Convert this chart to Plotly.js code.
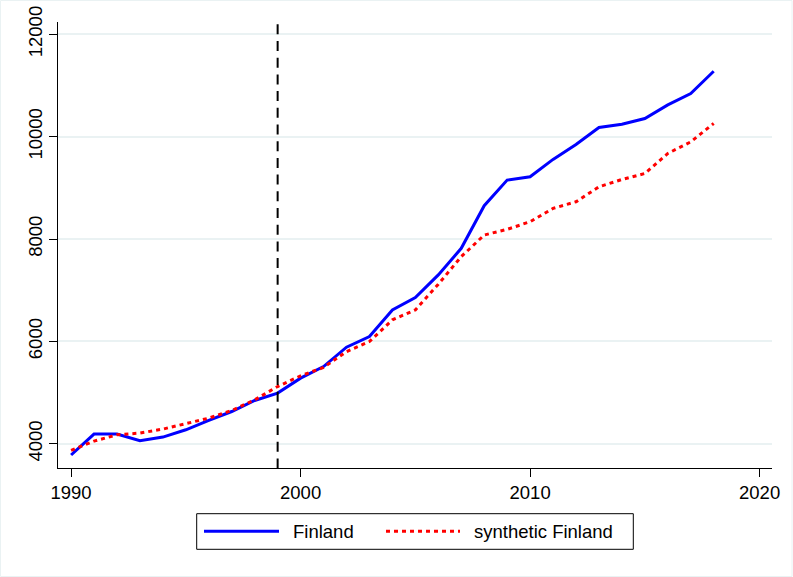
<!DOCTYPE html>
<html>
<head>
<meta charset="utf-8">
<script src="https://cdn.plot.ly/plotly-3.0.1.min.js"></script>
<style>html,body{margin:0;padding:0;background:#fff;}</style>
</head>
<body>
<div id="chart" style="width:793px;height:577px;"></div>
<script>
const years = [1990,1991,1992,1993,1994,1995,1996,1997,1998,1999,2000,2001,2002,2003,2004,2005,2006,2007,2008,2009,2010,2011,2012,2013,2014,2015,2016,2017,2018];
const finland = [3780,4190,4190,4059,4130,4273,4455,4630,4845,4990,5282,5508,5887,6094,6615,6855,7298,7818,8650,9151,9216,9555,9848,10180,10244,10355,10621,10843,11278];
const synthetic = [3870,4050,4175,4208,4286,4390,4500,4650,4858,5118,5327,5490,5800,5996,6420,6615,7116,7655,8078,8189,8338,8598,8728,9020,9163,9280,9672,9898,10257];
const xTicks = [1990,2000,2010,2020];
const yTicks = [4000,6000,8000,10000,12000];
const seriesNames = ["Finland","synthetic Finland"];
const treatYear = 1999;

const W = 793, H = 577;
const M = {l:58, r:21, t:22, b:109};
const pw = W - M.l - M.r, ph = H - M.t - M.b;
const px = v => (v - M.l) / pw;
const py = v => (H - M.b - v) / ph;
const FONT = "Liberation Sans, Arial, sans-serif";

const traces = [
  {x: years, y: finland, type: "scatter", mode: "lines", name: seriesNames[0],
   line: {color: "#0000ff", width: 3}},
  {x: years, y: synthetic, type: "scatter", mode: "lines", name: seriesNames[1],
   line: {color: "#ff0000", width: 3, dash: "4px,4px"}}
];

const layout = {
  width: W, height: H,
  margin: {l: M.l, r: M.r, t: M.t, b: M.b, pad: 0},
  paper_bgcolor: "#ffffff", plot_bgcolor: "#ffffff",
  showlegend: false,
  font: {family: FONT, size: 18.5, color: "#000"},
  xaxis: {
    range: [1989.43, 2020.54], tickvals: xTicks, ticktext: xTicks.map(String),
    ticks: "outside", ticklen: 8, tickwidth: 1, tickcolor: "#000",
    showline: true, linecolor: "#000", linewidth: 1,
    showgrid: false, zeroline: false,
    tickfont: {family: FONT, size: 18.5, color: "#000"}
  },
  yaxis: {
    range: [3526, 12240], tickvals: yTicks, ticktext: yTicks.map(String),
    tickangle: -90,
    ticks: "outside", ticklen: 8, tickwidth: 1, tickcolor: "#000",
    showline: true, linecolor: "#000", linewidth: 1,
    showgrid: true, gridcolor: "#eaf2f3", gridwidth: 2, zeroline: false,
    tickfont: {family: FONT, size: 18.5, color: "#000"}
  },
  shapes: [
    {type: "line", xref: "x", yref: "paper", x0: treatYear, x1: treatYear, y0: py(24.3), y1: 0,
     line: {color: "#000", width: 2, dash: "10px,6.7px"}},
    {type: "rect", xref: "paper", yref: "paper", x0: px(196.7), x1: px(633.3), y0: py(513.7), y1: py(549.3),
     line: {color: "#000", width: 1}, fillcolor: "rgba(0,0,0,0)"},
    {type: "line", xref: "paper", yref: "paper", x0: px(204), x1: px(279), y0: py(531.3), y1: py(531.3),
     line: {color: "#0000ff", width: 3}},
    {type: "line", xref: "paper", yref: "paper", x0: px(386), x1: px(460), y0: py(531.3), y1: py(531.3),
     line: {color: "#ff0000", width: 3, dash: "4px,4px"}},
    {type: "rect", xref: "paper", yref: "paper", x0: px(0.5), x1: px(792), y0: py(0.5), y1: py(576.5),
     line: {color: "#eaf2f3", width: 1}, fillcolor: "rgba(0,0,0,0)"}
  ],
  annotations: [
    {xref: "paper", yref: "paper", x: px(290.5), y: py(531), xanchor: "left", yanchor: "middle",
     text: seriesNames[0], showarrow: false, font: {family: FONT, size: 18.5, color: "#000"}},
    {xref: "paper", yref: "paper", x: px(471.8), y: py(531), xanchor: "left", yanchor: "middle",
     text: seriesNames[1], showarrow: false, font: {family: FONT, size: 18.5, color: "#000"}}
  ]
};

Plotly.newPlot("chart", traces, layout, {staticPlot: true, displayModeBar: false});
</script>
</body>
</html>
